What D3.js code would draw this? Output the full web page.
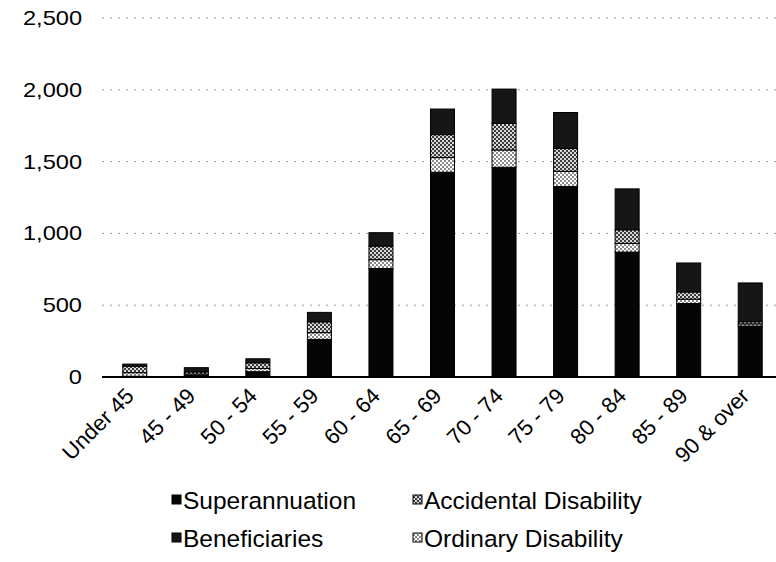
<!DOCTYPE html>
<html><head><meta charset="utf-8">
<script src="https://cdn.jsdelivr.net/npm/d3@7"></script>
<style>
html,body{margin:0;padding:0;background:#fff;}
svg{display:block;font-family:"Liberation Sans",Arial,sans-serif;}
</style></head>
<body>
<svg id="chart" width="776" height="562"></svg>
<script>
const categories = ["Under 45","45 - 49","50 - 54","55 - 59","60 - 64","65 - 69","70 - 74","75 - 79","80 - 84","85 - 89","90 & over"];
const superannuation = [5, 10, 37, 262, 755, 1426, 1460, 1326, 870, 512, 355];
const ordinaryDisability = [25, 10, 22, 47, 62, 102, 121, 106, 60, 30, 15];
const accidentalDisability = [45, 15, 40, 75, 95, 160, 185, 160, 95, 50, 15];
const beneficiaries = [15, 30, 28, 66, 93, 178, 239, 250, 285, 202, 270];
const yTicks = [0, 500, 1000, 1500, 2000, 2500];
const seriesNames = ["Superannuation","Ordinary Disability","Accidental Disability","Beneficiaries"];
const legendOrder = ["Superannuation","Accidental Disability","Beneficiaries","Ordinary Disability"];

const seriesValues = {
  "Superannuation": superannuation,
  "Ordinary Disability": ordinaryDisability,
  "Accidental Disability": accidentalDisability,
  "Beneficiaries": beneficiaries
};
const table = categories.map((c,i)=>{
  const o = {cat:c};
  seriesNames.forEach(s=>o[s]=seriesValues[s][i]);
  return o;
});

const svg = d3.select("#chart");
const defs = svg.append("defs");
function checker(id, bg, fg, size){
  const p = defs.append("pattern").attr("id",id).attr("width",size*2).attr("height",size*2)
    .attr("patternUnits","userSpaceOnUse");
  p.append("rect").attr("width",size*2).attr("height",size*2).attr("fill",bg);
  p.append("rect").attr("width",size).attr("height",size).attr("fill",fg);
  p.append("rect").attr("x",size).attr("y",size).attr("width",size).attr("height",size).attr("fill",fg);
}
checker("patAcc", "#d8d8d8", "#3a3a3a", 2);
checker("patOrd", "#ffffff", "#8a8a8a", 2);
const fills = {
  "Superannuation": "#050505",
  "Ordinary Disability": "url(#patOrd)",
  "Accidental Disability": "url(#patAcc)",
  "Beneficiaries": "#161616"
};

const x = d3.scaleBand().domain(categories).range([104, 781]).paddingInner(0.61).paddingOuter(0.305);
const y = d3.scaleLinear().domain([0, 2500]).range([377, 18]);

svg.append("g").selectAll("line").data(yTicks.filter(d=>d>0)).join("line")
  .attr("x1",102).attr("x2",776).attr("y1",d=>y(d)).attr("y2",d=>y(d))
  .attr("stroke","#9a9a9a").attr("stroke-width",1).attr("stroke-dasharray","2,6");

const yAxis = d3.axisLeft(y).tickValues(yTicks).tickFormat(d3.format(",")).tickSize(0).tickPadding(0);
const gy = svg.append("g").attr("transform","translate(82,0)").call(yAxis);
gy.select(".domain").remove();
gy.selectAll("text").attr("font-size",20).attr("fill","#000")
  .attr("font-family","'Liberation Sans',Arial,sans-serif")
  .attr("transform","scale(1.18,1)").attr("x",0);

const stack = d3.stack().keys(seriesNames);
const layers = stack(table);
svg.append("g").selectAll("g").data(layers).join("g")
  .attr("fill",d=>fills[d.key])
  .selectAll("rect").data(d=>d).join("rect")
  .attr("x",d=>x(d.data.cat)).attr("width",x.bandwidth())
  .attr("y",d=>y(d[1])).attr("height",d=>y(d[0])-y(d[1]))
  .attr("stroke","#000").attr("stroke-width",1);

const xAxis = d3.axisBottom(x).tickSize(0).tickPadding(0);
const gx = svg.append("g").attr("transform","translate(0,377)").call(xAxis);
gx.select(".domain").attr("d","M102,0H776").attr("stroke","#000").attr("stroke-width",2);
gx.selectAll(".tick text").attr("font-size",22).attr("fill","#000")
  .attr("font-family","'Liberation Sans',Arial,sans-serif")
  .attr("text-anchor","end").attr("dy","0.35em")
  .attr("transform","translate(-5,15) rotate(-45)");

const legendPos = [[172,500],[413,500],[172,538],[413,538]];
const lg = svg.append("g").selectAll("g").data(legendOrder).join("g")
  .attr("transform",(d,i)=>`translate(${legendPos[i][0]},${legendPos[i][1]})`);
lg.append("rect").attr("x",0).attr("y",-5).attr("width",9).attr("height",9)
  .attr("fill",d=>fills[d]).attr("stroke","#000").attr("stroke-width",1);
lg.append("text").attr("x",11).attr("y",0).attr("dy","0.35em")
  .attr("font-size",24.5).attr("fill","#000").text(d=>d);
</script>
</body></html>
